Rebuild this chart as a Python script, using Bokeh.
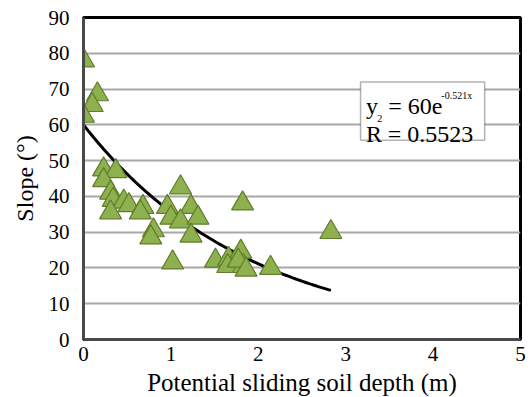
import numpy as np
from bokeh.plotting import figure
from bokeh.models import Range1d, BoxAnnotation, Label, FixedTicker
from bokeh.embed import file_html
from bokeh.resources import INLINE

# Data
depth = [0.00, 0.16, 0.10, 0.00,
         0.23, 0.37, 0.23, 0.31, 0.34, 0.46, 0.52, 0.31, 0.68, 0.65,
         1.11, 0.96, 1.23, 1.00, 1.11, 1.31, 1.23, 0.80, 0.77, 1.02,
         1.82, 1.51, 1.66, 1.80, 1.65, 1.83, 2.14, 1.77, 2.83, 1.86]
slope = [78.0, 68.5, 65.5, 62.5,
         47.5, 47.0, 44.5, 41.0, 39.0, 38.5, 37.5, 35.5, 37.0, 35.5,
         42.5, 37.0, 37.0, 34.0, 33.0, 34.0, 29.0, 30.5, 28.5, 21.5,
         38.0, 22.0, 22.5, 24.5, 20.5, 20.5, 20.0, 22.0, 30.0, 19.5]
x_ticks = [0, 1, 2, 3, 4, 5]
y_ticks = [0, 10, 20, 30, 40, 50, 60, 70, 80, 90]
fit_a = 60.0
fit_b = -0.521
fit_text = "= 60e"
fit_exp = "-0.521x"
r2_text = "= 0.5523"

FONT = "'Liberation Serif', 'Times New Roman', serif"

p = figure(width=528, height=397, output_backend="svg", toolbar_location=None,
           x_range=Range1d(0, 5), y_range=Range1d(0, 90),
           min_border_left=83, min_border_right=8, min_border_top=17, min_border_bottom=58,
           frame_width=437, frame_height=322)
p.background_fill_color = "white"
p.border_fill_color = "white"
p.outline_line_color = "black"
p.outline_line_width = 3

p.xgrid.grid_line_color = None
p.ygrid.grid_line_color = "#a8a8a8"
p.ygrid.grid_line_width = 2

p.xaxis.ticker = FixedTicker(ticks=x_ticks)
p.yaxis.ticker = FixedTicker(ticks=y_ticks)
for ax in (p.xaxis, p.yaxis):
    ax.major_tick_line_color = None
    ax.minor_tick_line_color = None
    ax.major_tick_out = 0
    ax.major_tick_in = 0
    ax.minor_tick_out = 0
    ax.axis_line_color = "#4a4a4a"
    ax.axis_line_width = 3
    ax.major_label_text_font = FONT
    ax.major_label_text_font_size = "21px"
    ax.major_label_text_color = "black"
    ax.axis_label_text_font = FONT
    ax.axis_label_text_font_style = "normal"
    ax.axis_label_text_color = "black"

p.xaxis.axis_label = "Potential sliding soil depth (m)"
p.xaxis.axis_label_text_font_size = "25px"
p.xaxis.major_label_standoff = 7
p.xaxis.axis_label_standoff = 5
p.yaxis.axis_label = "Slope (°)"
p.yaxis.axis_label_text_font_size = "24px"
p.yaxis.major_label_standoff = 14
p.yaxis.axis_label_standoff = 8

# trend line from the fitted equation shown on the chart
xf = np.linspace(0, max(depth), 100)
p.line(xf, fit_a * np.exp(fit_b * xf), line_color="black", line_width=3)

p.scatter(depth, slope, marker="triangle", size=22,
          fill_color="#8fb04e", line_color="#5f7d2b", line_width=1.2)

box = BoxAnnotation(left=3.17, right=4.59, bottom=55.7, top=72,
                    fill_color="white", fill_alpha=1.0,
                    line_color="black", line_width=1.5)
p.add_layout(box)

def lab(x, y, t, size):
    p.add_layout(Label(x=x, y=y, text=t, text_font=FONT, text_font_size=size,
                       text_color="black", text_baseline="alphabetic", text_align="left"))

lab(3.232, 65.2, "y", "24px")
lab(3.486, 65.2, fit_text, "24px")
lab(4.094, 68.3, fit_exp, "10px")
lab(3.232, 57.4, "R", "24px")
lab(3.36, 61.8, "2", "10px")
lab(3.48, 57.4, r2_text, "24px")

open("out.html", "w").write(file_html(p, INLINE))
